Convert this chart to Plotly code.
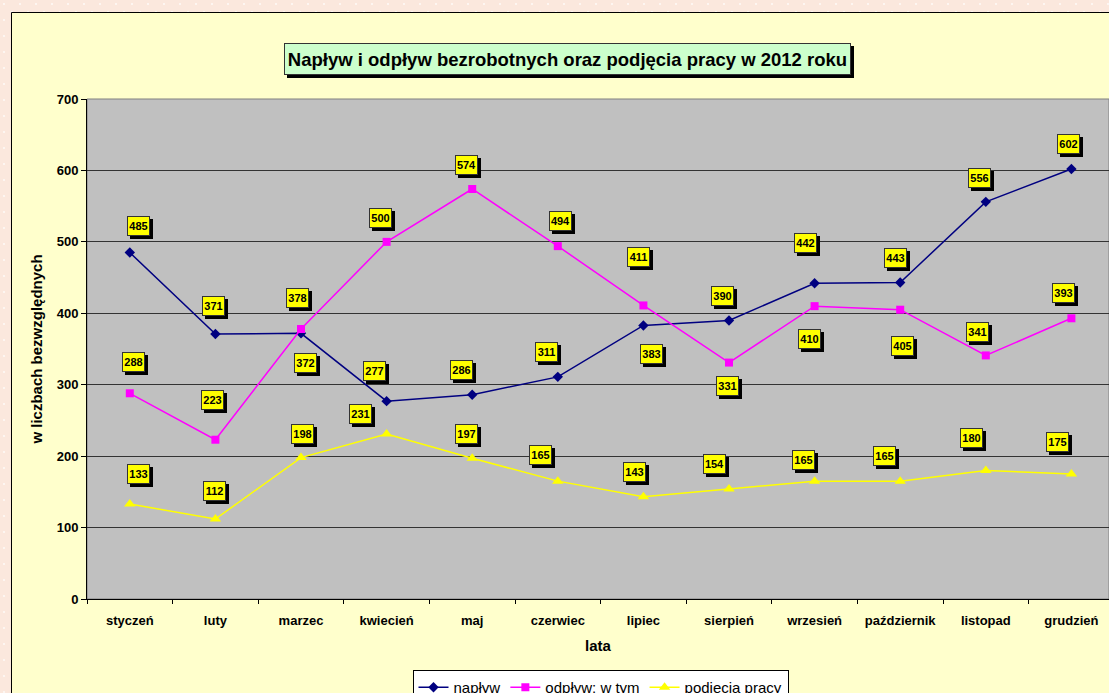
import base64
import plotly.graph_objects as go

# ---- data ----
months = ["styczeń", "luty", "marzec", "kwiecień", "maj", "czerwiec", "lipiec",
          "sierpień", "wrzesień", "październik", "listopad", "grudzień"]
naplyw = [485, 371, 372, 277, 286, 311, 383, 390, 442, 443, 556, 602]
odplyw = [288, 223, 378, 500, 574, 494, 411, 331, 410, 405, 341, 393]
podjecia = [133, 112, 198, 231, 197, 165, 143, 154, 165, 165, 180, 175]

series_names = ["napływ", "odpływ: w tym", "podjęcia pracy"]
title_text = "Napływ i odpływ bezrobotnych oraz podjęcia pracy w 2012 roku"
y_title = "w liczbach bezwzględnych"
x_title = "lata"

# ---- label offsets (pixels, relative to the data point) ----
nap_dx = [9, -2, 4, -12, -11, -11, 8, -7, -9, -5, -6, -3]
nap_dy = [27, 28, -30, 30, 25, 25, -29, 24, 40, 25, 24, 25]
odp_dx = [4, -3, -4, -6, -6, 3, -5, -2, -5, 2, -8, -8]
odp_dy = [31, 40, 31, 24, 24, 25, 48, -23, -33, -36, 23, 25]
pod_dx = [9, -1, 1, -26, -6, -17, -9, -15, -11, -16, -14, -14]
pod_dy = [30, 28, 24, 20, 24, 26, 25, 25, 21, 25, 32, 32]

FONT = "Liberation Sans, Arial, sans-serif"
W, H = 1109, 693
ML, MT, MB, MR = 87, 99, 94, 0
PW, PH = W - ML - MR, H - MT - MB


def px2paper_x(px):
    return (px - ML) / PW


def px2paper_y(py):
    return (H - MB - py) / PH


fig = go.Figure()

styles = [
    dict(color="#000080", symbol="diamond", size=8),
    dict(color="#FF00FF", symbol="square", size=8),
    dict(color="#FFFF00", symbol="triangle-up", size=10),
]
for name, vals, st in zip(series_names, [naplyw, odplyw, podjecia], styles):
    fig.add_trace(go.Scatter(
        x=months, y=vals, name=name, mode="lines+markers",
        line=dict(color=st["color"], width=1.5),
        marker=dict(color=st["color"], symbol=st["symbol"], size=st["size"],
                    line=dict(color=st["color"], width=0)),
    ))

annotations = []
groups = [(naplyw, nap_dx, nap_dy), (odplyw, odp_dx, odp_dy), (podjecia, pod_dx, pod_dy)]
# data labels: shadows first, then boxes
for vals, dxs, dys in groups:
    for m, v, dx, dy in zip(months, vals, dxs, dys):
        annotations.append(dict(
            x=m, y=v, xref="x", yref="y", text="<b>%d</b>" % v, showarrow=False,
            xshift=dx + 3, yshift=dy - 3, bgcolor="#000000", bordercolor="#000000",
            borderwidth=1, borderpad=1, width=19, height=16,
            font=dict(family=FONT, size=11, color="#000000")))
for vals, dxs, dys in groups:
    for m, v, dx, dy in zip(months, vals, dxs, dys):
        annotations.append(dict(
            x=m, y=v, xref="x", yref="y", text="<b>%d</b>" % v, showarrow=False,
            xshift=dx, yshift=dy, bgcolor="#FFFF00", bordercolor="#333333",
            borderwidth=1, borderpad=1, width=19, height=16,
            font=dict(family=FONT, size=11, color="#000000")))

# title box with shadow
tx, ty = px2paper_x(567.5), px2paper_y(43)
annotations.append(dict(
    x=tx, y=ty, xref="paper", yref="paper", text="<b>" + title_text + "</b>",
    showarrow=False, xshift=3, yshift=-3, bgcolor="#000000", bordercolor="#000000",
    borderwidth=1, borderpad=1, width=563, height=28,
    font=dict(family=FONT, size=18.5, color="#000000")))
annotations.append(dict(
    x=tx, y=ty, xref="paper", yref="paper", text="<b>" + title_text + "</b>",
    showarrow=False, bgcolor="#CCFFCC", bordercolor="#333333",
    borderwidth=1, borderpad=1, width=563, height=28,
    font=dict(family=FONT, size=18.5, color="#000000")))

# background dotted pattern (page)
svg = ('<svg xmlns="http://www.w3.org/2000/svg" width="%d" height="%d">'
       '<defs><pattern id="p" width="16" height="16" patternUnits="userSpaceOnUse">'
       '<rect width="16" height="16" fill="#FBE8DD"/>'
       '<circle cx="4" cy="4" r="1" fill="#FFFFFF" fill-opacity="0.8"/>'
       '<circle cx="12" cy="12" r="1" fill="#FFFFFF" fill-opacity="0.8"/>'
       '</pattern></defs><rect width="100%%" height="100%%" fill="url(#p)"/></svg>') % (W, H)
src = "data:image/svg+xml;base64," + base64.b64encode(svg.encode()).decode()

shapes = [
    # chart area
    dict(type="rect", xref="paper", yref="paper", layer="below",
         x0=px2paper_x(11.5), x1=1.2, y0=-0.4, y1=px2paper_y(12.5),
         fillcolor="#FFFFCC", line=dict(color="#000000", width=1)),
    # plot area
    dict(type="rect", xref="paper", yref="paper", layer="below",
         x0=0, x1=1, y0=0, y1=1, fillcolor="#C0C0C0",
         line=dict(color="#808080", width=1)),
]

fig.update_layout(
    width=W, height=H,
    margin=dict(l=ML, r=MR, t=MT, b=MB, autoexpand=False),
    paper_bgcolor="#FBE8DD", plot_bgcolor="rgba(0,0,0,0)",
    font=dict(family=FONT, color="#000000"),
    showlegend=True,
    legend=dict(orientation="h", x=px2paper_x(600.5), y=px2paper_y(670),
                xanchor="center", yanchor="top", bgcolor="#FFFFFF",
                bordercolor="#000000", borderwidth=1,
                font=dict(family=FONT, size=15, color="#000000"),
                itemwidth=30, tracegroupgap=0),
    annotations=annotations,
    shapes=shapes,
    images=[dict(source=src, xref="paper", yref="paper",
                 x=px2paper_x(0), y=px2paper_y(0), sizex=W / PW, sizey=H / PH,
                 xanchor="left", yanchor="top", sizing="stretch", layer="below")],
    hovermode=False,
)

fig.update_xaxes(
    type="category", categoryorder="array", categoryarray=months,
    range=[-0.5, -0.5 + PW / 85.6],
    tickson="boundaries", ticks="outside", ticklen=4, tickcolor="#000000",
    ticklabelstandoff=9,
    showline=True, linecolor="#000000", linewidth=1, showgrid=False,
    tickfont=dict(family=FONT, size=13, color="#000000", weight="bold"),
    title=dict(text="<b>" + x_title + "</b>", standoff=13,
               font=dict(family=FONT, size=15, color="#000000")),
    automargin=False, fixedrange=True,
)
fig.update_yaxes(
    range=[0, 700], dtick=100, tick0=0,
    ticks="outside", ticklen=5, tickcolor="#000000",
    showline=True, linecolor="#000000", linewidth=1,
    showgrid=True, gridcolor="#333333", gridwidth=1, zeroline=False,
    tickfont=dict(family=FONT, size=13, color="#000000", weight="bold"),
    title=dict(text="<b>" + y_title + "</b>", standoff=10,
               font=dict(family=FONT, size=15, color="#000000")),
    automargin=False, fixedrange=True,
)

fig.write_html(
    "out.html",
    config=dict(displayModeBar=False),
    post_script="document.body.style.margin='0';document.body.style.overflow='hidden';"
                "document.body.style.background='#FBE8DD';",
)
